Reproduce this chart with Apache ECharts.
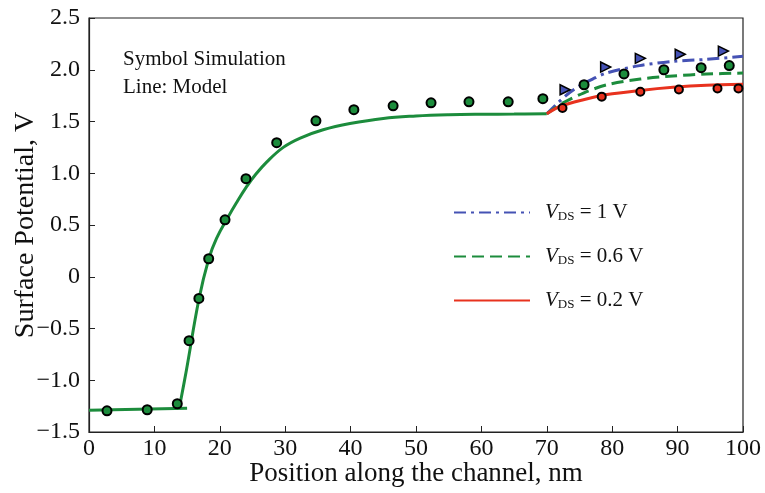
<!DOCTYPE html>
<html>
<head>
<meta charset="utf-8">
<script src="https://cdn.jsdelivr.net/npm/echarts@6/dist/echarts.min.js"></script>
<style>
  html, body { margin: 0; padding: 0; background: #fff; }
  #chart { width: 765px; height: 493px; }
</style>
</head>
<body>
<div id="chart"></div>
<script>
// simulation points, shared part (0..70 nm)
var simX = [2.75, 8.9, 13.5, 15.3, 16.8, 18.3, 20.8, 24.0, 28.7, 34.7, 40.5, 46.5, 52.3, 58.1, 64.1, 69.4];
var simY = [-1.295, -1.285, -1.227, -0.618, -0.21, 0.174, 0.55, 0.947, 1.295, 1.507, 1.614, 1.652, 1.68, 1.69, 1.69, 1.72];

// simulation points after 70 nm
var sim1X = [72.8, 79.0, 84.3, 90.4, 97.0];
var sim1Y = [1.807, 2.026, 2.11, 2.15, 2.18];
var sim06X = [75.7, 81.8, 87.9, 93.6, 97.9];
var sim06Y = [1.855, 1.96, 2.0, 2.02, 2.04];
var sim02X = [72.4, 78.4, 84.3, 90.2, 96.1, 99.3];
var sim02Y = [1.63, 1.74, 1.787, 1.81, 1.82, 1.82];

// model lines
var flatX = [0, 15];
var flatY = [-1.29, -1.27];
var riseX = [13.8, 14.9, 16.8, 18.3, 19.5, 21.3, 22.5, 24.1, 25.5, 27.2, 29.7, 32.3, 35.8, 39.9, 45, 50, 55, 60, 65, 70];
var riseY = [-1.27, -0.9, -0.22, 0.17, 0.37, 0.58, 0.71, 0.87, 0.99, 1.11, 1.25, 1.34, 1.42, 1.48, 1.53, 1.553, 1.565, 1.57, 1.572, 1.575];
var m1X = [70, 71.7, 73.5, 75.3, 77, 79.1, 84.2, 89.3, 94.4, 100];
var m1Y = [1.575, 1.68, 1.78, 1.855, 1.91, 1.968, 2.04, 2.08, 2.10, 2.13];
var m06X = [70, 72.5, 75.6, 79.2, 84.3, 89.3, 94.4, 100];
var m06Y = [1.575, 1.68, 1.775, 1.855, 1.91, 1.94, 1.958, 1.968];
var m02X = [70, 72, 75.6, 79.2, 84.3, 89.3, 94.4, 100];
var m02Y = [1.575, 1.645, 1.71, 1.76, 1.80, 1.83, 1.85, 1.86];

var legendNames = ['1 V', '0.6 V', '0.2 V'];

function pairs(xs, ys) {
  return xs.map(function (x, i) { return [x, ys[i]]; });
}

var green = '#1c8c3c';
var blue = '#4552b4';
var red = '#e8321e';
var serif = '"Liberation Serif", "DejaVu Serif", serif';

var myChart = echarts.init(document.getElementById('chart'));

var option = {
  backgroundColor: '#ffffff',
  animation: false,
  grid: {
    left: 89,
    right: 22,
    top: 18,
    bottom: 61,
    outerBoundsMode: 'none',
    show: true,
    borderColor: '#222',
    borderWidth: 1.2
  },
  legend: {
    data: legendNames,
    orient: 'vertical',
    left: 448,
    top: 197,
    itemWidth: 76,
    itemHeight: 14,
    itemGap: 23,
    itemStyle: { opacity: 0 },
    formatter: function (name) {
      return '{v|V}{s|DS}{t| = ' + name + '}';
    },
    textStyle: {
      fontFamily: serif,
      color: '#111',
      rich: {
        v: { fontFamily: serif, fontStyle: 'italic', fontSize: 21, color: '#111', padding: [0, 0, 0, 10] },
        s: { fontFamily: serif, fontSize: 13, color: '#111', padding: [8, 0, 0, 0] },
        t: { fontFamily: serif, fontSize: 21, color: '#111' }
      }
    }
  },
  graphic: [
    { type: 'text', left: 123, top: 49, style: { text: 'Symbol Simulation', font: '21px ' + serif, fill: '#111' } },
    { type: 'text', left: 123, top: 77, style: { text: 'Line: Model', font: '21px ' + serif, fill: '#111' } }
  ],
  xAxis: {
    type: 'value',
    min: 0,
    max: 100,
    interval: 10,
    name: 'Position along the channel, nm',
    nameLocation: 'middle',
    nameGap: 28,
    nameMoveOverlap: false,
    nameTextStyle: { fontFamily: serif, fontSize: 27, color: '#111' },
    axisLine: { onZero: false, lineStyle: { color: '#222', width: 1.2 } },
    axisTick: { inside: true, length: 6, lineStyle: { color: '#222' } },
    axisLabel: { fontFamily: serif, fontSize: 24, color: '#111', margin: 5 },
    splitLine: { show: false }
  },
  yAxis: {
    type: 'value',
    min: -1.5,
    max: 2.5,
    interval: 0.5,
    name: 'Surface Potential, V',
    nameLocation: 'middle',
    nameGap: 49,
    nameMoveOverlap: false,
    nameTextStyle: { fontFamily: serif, fontSize: 28, color: '#111' },
    axisLine: { onZero: false, lineStyle: { color: '#222', width: 1.2 } },
    axisTick: { inside: true, length: 6, lineStyle: { color: '#222' } },
    axisLabel: {
      fontFamily: serif, fontSize: 24, color: '#111', margin: 9,
      formatter: function (v) {
        if (v === 0) return '0';
        var s = Math.abs(v).toFixed(1);
        return v < 0 ? '\u2212' + s : s;
      }
    },
    splitLine: { show: false }
  },
  series: [
    {
      name: 'flat', type: 'line', data: pairs(flatX, flatY), symbol: 'none',
      lineStyle: { color: green, width: 3 }, z: 2
    },
    {
      name: 'rise', type: 'line', data: pairs(riseX, riseY), symbol: 'none', smooth: 0.4,
      lineStyle: { color: green, width: 3 }, z: 2
    },
    {
      name: '1 V', type: 'line', data: pairs(m1X, m1Y), symbol: 'none', smooth: 0.3,
      color: blue,
      lineStyle: { color: blue, width: 3, type: [12, 5, 3, 5] }, z: 3
    },
    {
      name: '0.6 V', type: 'line', data: pairs(m06X, m06Y), symbol: 'none', smooth: 0.3,
      color: green,
      lineStyle: { color: green, width: 3, type: [12, 6] }, z: 3
    },
    {
      name: '0.2 V', type: 'line', data: pairs(m02X, m02Y), symbol: 'none', smooth: 0.3,
      color: red,
      lineStyle: { color: red, width: 3 }, z: 3
    },
    {
      name: 'sim', type: 'scatter', data: pairs(simX, simY), symbol: 'circle', symbolSize: 9,
      itemStyle: { color: green, borderColor: '#000', borderWidth: 2, opacity: 1 }, z: 5
    },
    {
      name: 'sim 1 V', type: 'scatter', data: pairs(sim1X, sim1Y), symbol: 'triangle', symbolSize: 10,
      symbolRotate: -90,
      itemStyle: { color: blue, borderColor: '#000', borderWidth: 1.5, opacity: 1 }, z: 5
    },
    {
      name: 'sim 0.6 V', type: 'scatter', data: pairs(sim06X, sim06Y), symbol: 'circle', symbolSize: 9,
      itemStyle: { color: green, borderColor: '#000', borderWidth: 2, opacity: 1 }, z: 5
    },
    {
      name: 'sim 0.2 V', type: 'scatter', data: pairs(sim02X, sim02Y), symbol: 'circle', symbolSize: 8,
      itemStyle: { color: red, borderColor: '#000', borderWidth: 2, opacity: 1 }, z: 5
    }
  ]
};

myChart.setOption(option);
window.onresize = function () {
  myChart.resize();
};
</script>
</body>
</html>
